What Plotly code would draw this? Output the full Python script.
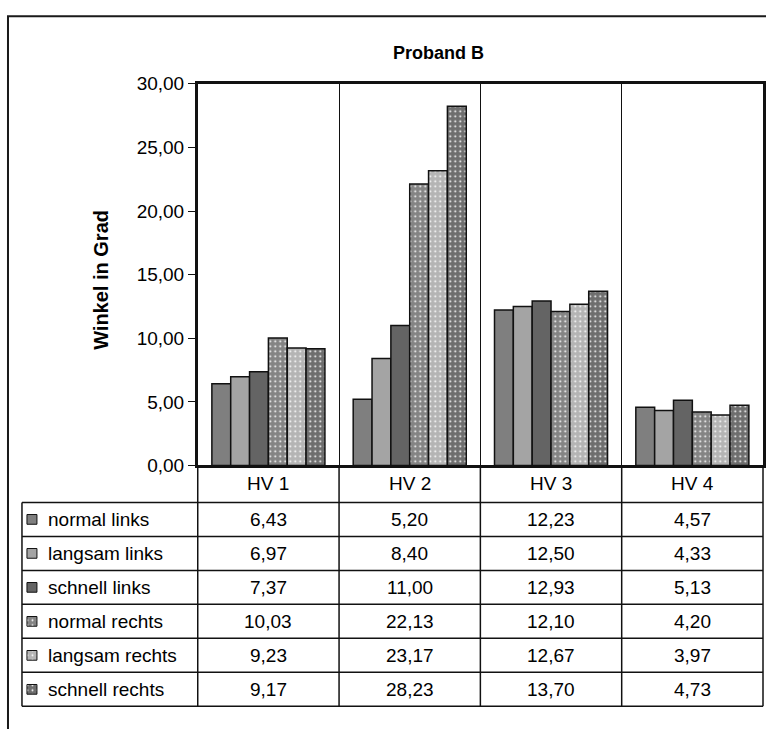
import plotly.graph_objects as go

# ---- data -------------------------------------------------------------
categories = ["HV 1", "HV 2", "HV 3", "HV 4"]
series_names = ["normal links", "langsam links", "schnell links",
                "normal rechts", "langsam rechts", "schnell rechts"]
normal_links = [6.43, 5.20, 12.23, 4.57]
langsam_links = [6.97, 8.40, 12.50, 4.33]
schnell_links = [7.37, 11.00, 12.93, 5.13]
normal_rechts = [10.03, 22.13, 12.10, 4.20]
langsam_rechts = [9.23, 23.17, 12.67, 3.97]
schnell_rechts = [9.17, 28.23, 13.70, 4.73]
y_ticks = [0, 5, 10, 15, 20, 25, 30]

series_values = [normal_links, langsam_links, schnell_links,
                 normal_rechts, langsam_rechts, schnell_rechts]

# ---- styles -----------------------------------------------------------
fills = ["#7f7f7f", "#a4a4a4", "#646464", "#848484", "#b4b4b4", "#6e6e6e"]
dotted = [False, False, False, True, True, True]
FONT = "Liberation Sans, Arial, sans-serif"
FS = 19
LINE = "#111111"

# ---- layout geometry (pixels) -----------------------------------------
W, H = 766, 729
PL, PR, PT, PB = 198, 764, 76, 469      # bar plot area
TL, TB = 22, 717                        # table left / bottom
HDR, ROW = 38, 35                       # header / body row height
UNIT = (PR - PL) / len(categories)      # px per category


def fx(p):
    return p / W


def fy(p):
    return 1 - p / H


def tx(p):
    """pixel x -> table x-axis value (category units)"""
    return (p - PL) / UNIT - 0.5


hdr_v = HDR / ROW
n_rows = len(series_names)
bottom_v = hdr_v + n_rows
left_v = tx(TL)


def pattern_for(i):
    if dotted[i]:
        return dict(shape=".", fgcolor="white", fgopacity=1,
                    bgcolor=fills[i], size=5, solidity=0.12)
    return dict(shape="")


fig = go.Figure()

# grouped bars
for i, (name, vals) in enumerate(zip(series_names, series_values)):
    fig.add_trace(go.Bar(
        x=categories, y=vals, name=name, xaxis="x", yaxis="y",
        marker=dict(color=fills[i], line=dict(color=LINE, width=1.5),
                    pattern=pattern_for(i)),
        showlegend=False, hoverinfo="x+y+name",
    ))

# legend keys in the data table
icon_w = 10
for i, name in enumerate(series_names):
    fig.add_trace(go.Bar(
        x=[tx(32)], y=[icon_w / ROW], base=[hdr_v + i + 0.5 - icon_w / ROW / 2],
        width=[icon_w / UNIT], offset=[-icon_w / UNIT / 2],
        xaxis="x2", yaxis="y2",
        marker=dict(color=fills[i], line=dict(color=LINE, width=1),
                    pattern=pattern_for(i)),
        showlegend=False, hoverinfo="skip",
    ))

shapes = []
# table grid
for b in [-0.5, 0.5, 1.5, 2.5, 3.5]:
    shapes.append(dict(type="line", xref="x2", yref="y2", x0=b, x1=b,
                       y0=0, y1=bottom_v, line=dict(color=LINE, width=1.5)))
shapes.append(dict(type="line", xref="x2", yref="y2", x0=left_v, x1=left_v,
                   y0=hdr_v, y1=bottom_v, line=dict(color=LINE, width=1.5)))
for r in range(n_rows + 1):
    shapes.append(dict(type="line", xref="x2", yref="y2", x0=left_v, x1=3.5,
                       y0=hdr_v + r, y1=hdr_v + r,
                       line=dict(color=LINE, width=1.5)))
# outer chart frame
shapes.append(dict(type="rect", xref="paper", yref="paper",
                   x0=fx(8), y0=fy(6.5), x1=1.2, y1=-0.2,
                   line=dict(color="#1a1a1a", width=2)))

annotations = []
for j, cat in enumerate(categories):
    annotations.append(dict(xref="x2", yref="y2", x=j, y=hdr_v / 2, text=cat,
                            showarrow=False, font=dict(size=FS)))
for i, (name, vals) in enumerate(zip(series_names, series_values)):
    yc = hdr_v + i + 0.5
    annotations.append(dict(xref="x2", yref="y2", x=tx(46), y=yc, text=name,
                            xanchor="left", showarrow=False,
                            font=dict(size=FS)))
    for j, v in enumerate(vals):
        annotations.append(dict(xref="x2", yref="y2", x=j, y=yc,
                                text=f"{v:.2f}".replace(".", ","),
                                showarrow=False, font=dict(size=FS)))
annotations.append(dict(xref="paper", yref="paper", x=fx(439), y=fy(44),
                        xanchor="center", yanchor="middle",
                        text="<b>Proband B</b>", showarrow=False,
                        font=dict(size=18)))
annotations.append(dict(xref="paper", yref="paper", x=fx(101), y=fy(278),
                        xanchor="center", yanchor="middle",
                        text="<b>Winkel in Grad</b>", textangle=-90,
                        showarrow=False, font=dict(size=20)))

fig.update_layout(
    width=W, height=H, margin=dict(l=0, r=0, t=0, b=0),
    paper_bgcolor="white", plot_bgcolor="rgba(0,0,0,0)",
    font=dict(family=FONT, size=FS, color="black"),
    separators=",.",
    barmode="group", bargap=0.2, bargroupgap=0,
    showlegend=False,
    xaxis=dict(domain=[fx(PL), fx(PR)], anchor="y", type="category",
               categoryorder="array", categoryarray=categories,
               range=[-0.5, 3.5], showticklabels=False, ticks="",
               showgrid=True, tickson="boundaries", gridcolor=LINE,
               gridwidth=1, showline=True, linecolor=LINE, linewidth=2.5,
               mirror=True, zeroline=False, fixedrange=True),
    yaxis=dict(domain=[fy(PB), fy(PT)], anchor="x", range=[0, 30],
               tickvals=y_ticks, tickformat=".2f", ticks="outside",
               ticklen=7, tickwidth=1, tickcolor=LINE, showgrid=False,
               showline=True, linecolor=LINE, linewidth=2.5, mirror=True,
               zeroline=False, fixedrange=True, tickfont=dict(size=FS)),
    xaxis2=dict(domain=[0, 1], anchor="y2", range=[tx(0), tx(W)],
                visible=False, fixedrange=True),
    yaxis2=dict(domain=[0, fy(PB - 8)], anchor="x2",
                range=[(H - PB) / ROW, -8 / ROW],
                visible=False, fixedrange=True),
    shapes=shapes, annotations=annotations,
)

fig.write_html("out.html")
